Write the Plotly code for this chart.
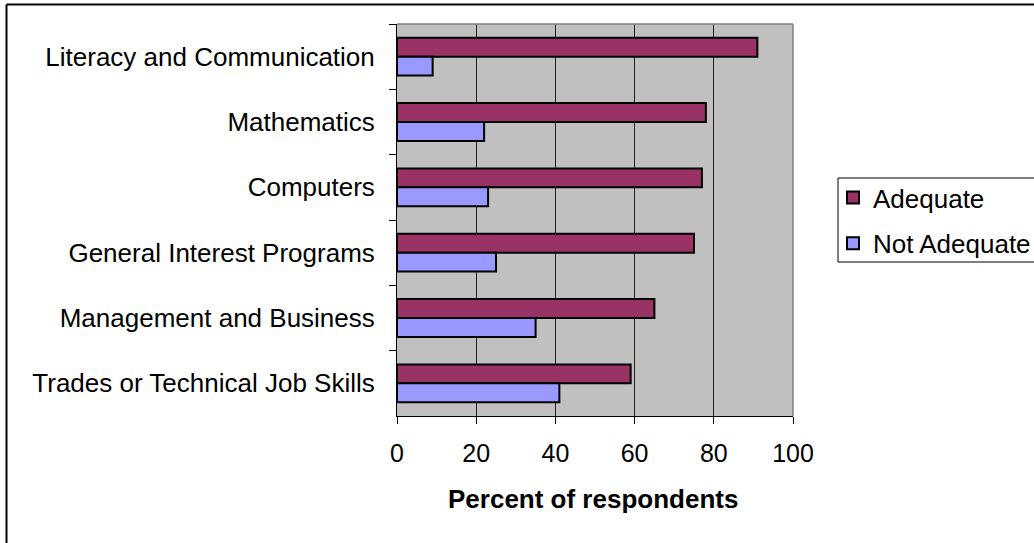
import plotly.graph_objects as go

# Survey results: share of respondents rating each program area
categories = [
    "Literacy and Communication",
    "Mathematics",
    "Computers",
    "General Interest Programs",
    "Management and Business",
    "Trades or Technical Job Skills",
]
adequate = [91, 78, 77, 75, 65, 59]
not_adequate = [9, 22, 23, 25, 35, 41]
x_ticks = [0, 20, 40, 60, 80, 100]

W, H = 1034, 543
FONT = "Liberation Sans, Arial, sans-serif"
FS = 26

# plot area in pixels
PL, PR, PT, PB = 397, 793, 24, 416


def px(x):
    return x / W


def py(y):
    return 1 - y / H


fig = go.Figure()
fig.add_trace(go.Bar(
    y=categories, x=adequate, orientation="h", name="Adequate",
    marker=dict(color="#993366", line=dict(color="#000000", width=2)),
    legendgroup="a",
))
fig.add_trace(go.Bar(
    y=categories, x=not_adequate, orientation="h", name="Not Adequate",
    marker=dict(color="#9999FF", line=dict(color="#000000", width=2)),
    legendgroup="b",
))

fig.update_layout(
    width=W, height=H,
    margin=dict(l=0, r=0, t=0, b=0, autoexpand=False),
    paper_bgcolor="#FFFFFF",
    plot_bgcolor="#C0C0C0",
    barmode="group",
    bargap=0.42,
    bargroupgap=0,
    font=dict(family=FONT, size=FS, color="#000000"),
    showlegend=True,
    legend=dict(
        x=px(833), y=py(174), xanchor="left", yanchor="top",
        bgcolor="rgba(0,0,0,0)", borderwidth=0,
        font=dict(family=FONT, size=FS, color="#000000"),
        traceorder="grouped", tracegroupgap=9,
    ),
    xaxis=dict(
        domain=[px(PL), px(PR)],
        range=[0, 100],
        tickvals=x_ticks,
        ticktext=[str(v) for v in x_ticks],
        showgrid=True, gridcolor="#202020", gridwidth=1,
        zeroline=False,
        showline=True, linecolor="#000000", linewidth=1,
        ticks="outside", ticklen=7, tickcolor="#000000", tickwidth=1,
        ticklabelstandoff=8,
        tickfont=dict(family=FONT, size=25, color="#000000"),
        automargin=False,
        fixedrange=True,
    ),
    yaxis=dict(
        domain=[py(PB), py(PT)],
        autorange="reversed",
        type="category",
        showgrid=False,
        showline=True, linecolor="#000000", linewidth=1,
        ticks="outside", ticklen=7, tickcolor="#000000", tickwidth=1,
        tickson="boundaries",
        ticklabelstandoff=16,
        tickfont=dict(family=FONT, size=FS, color="#000000"),
        automargin=False,
        fixedrange=True,
    ),
)


def hline(x0, x1, y, color, width):
    fig.add_shape(type="line", xref="paper", yref="paper",
                  x0=px(x0), x1=px(x1), y0=py(y), y1=py(y),
                  line=dict(color=color, width=width), layer="above")


def vline(x, y0, y1, color, width):
    fig.add_shape(type="line", xref="paper", yref="paper",
                  x0=px(x), x1=px(x), y0=py(y0), y1=py(y1),
                  line=dict(color=color, width=width), layer="above")


# gray frame on top and right of the plot area
hline(PL, PR, PT, "#808080", 1.5)
vline(PR, PT, PB, "#808080", 1.5)

# legend frame (open on the right, running off the chart edge)
hline(838, 1034, 178, "#000000", 1)
hline(838, 1034, 262, "#000000", 1)
vline(838, 178, 262, "#000000", 1)

# outer chart border (left and top edges)
hline(6.5, 1034, 4.5, "#000000", 2)
vline(6.5, 4.5, 543, "#000000", 2)

# axis title
fig.add_annotation(
    text="<b>Percent of respondents</b>", xref="paper", yref="paper",
    x=px(593), y=py(499), xanchor="center", yanchor="middle",
    showarrow=False, font=dict(family=FONT, size=FS, color="#000000"),
)

fig.write_html("out.html")
